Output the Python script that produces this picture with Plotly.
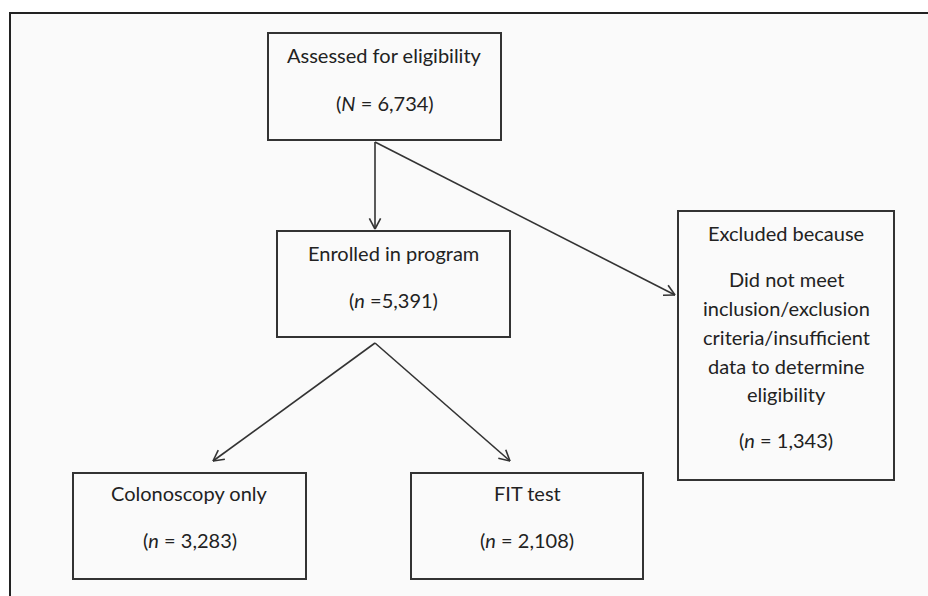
import numpy as np
import plotly.graph_objects as go

# ---- data ----
box_titles = ["Assessed for eligibility", "Enrolled in program", "Excluded because",
              "Colonoscopy only", "FIT test"]
count_symbols = ["N", "n", "n", "n", "n"]
count_values = ["6,734", "5,391", "1,343", "3,283", "2,108"]
count_sep = [" = ", " =", " = ", " = ", " = "]
exclusion_reason = ["Did not meet", "inclusion/exclusion", "criteria/insufficient",
                    "data to determine", "eligibility"]

# ---- layout (pixel coordinates) ----
boxes = [  # x0, y0, x1, y1, title_y, count_y
    (268, 33, 501, 140, 55, 103),
    (277, 231, 510, 337, 253, 300),
    (678, 211, 894, 480, 233, 440),
    (73, 473, 306, 579, 493, 540),
    (411, 473, 643, 579, 493, 540),
]
reason_y = [279, 308, 337, 366, 394]
arrows = [  # start, end
    ((375, 142), (375, 229)),
    ((375, 142), (675, 295)),
    ((375, 343), (213, 461)),
    ((375, 343), (510, 461)),
]

LINE = "#333333"
TXT = "#222222"
FONT = "Lato"
FS = 20

fig = go.Figure()
shapes = []
annotations = []

# frame background and edges
shapes.append(dict(type="rect", x0=10, y0=13, x1=928, y1=596, xref="x", yref="y",
                   fillcolor="#fafafa", line=dict(width=0), layer="below"))
shapes.append(dict(type="path", path="M 10 596 L 10 13 L 928 13", xref="x", yref="y",
                   line=dict(color="#222222", width=2)))

for i, (x0, y0, x1, y1, ty, cy) in enumerate(boxes):
    shapes.append(dict(type="rect", x0=x0, y0=y0, x1=x1, y1=y1, xref="x", yref="y",
                       line=dict(color=LINE, width=2), fillcolor="rgba(0,0,0,0)"))
    cx = (x0 + x1) / 2
    annotations.append(dict(x=cx, y=ty, text=box_titles[i], showarrow=False,
                            xref="x", yref="y", font=dict(family=FONT, size=FS, color=TXT)))
    annotations.append(dict(x=cx, y=cy,
                            text=f"(<i>{count_symbols[i]}</i>{count_sep[i]}{count_values[i]})",
                            showarrow=False, xref="x", yref="y",
                            font=dict(family=FONT, size=FS, color=TXT)))

ex = boxes[2]
for line, y in zip(exclusion_reason, reason_y):
    annotations.append(dict(x=(ex[0] + ex[2]) / 2, y=y, text=line, showarrow=False,
                            xref="x", yref="y", font=dict(family=FONT, size=FS, color=TXT)))

# arrows: shaft + open V head
for (sx, sy), (ex_, ey) in arrows:
    shapes.append(dict(type="line", x0=sx, y0=sy, x1=ex_, y1=ey, xref="x", yref="y",
                       line=dict(color=LINE, width=1.6)))
    d = np.array([ex_ - sx, ey - sy], dtype=float)
    d /= np.linalg.norm(d)
    L, ang = 12, np.deg2rad(28)
    for s in (1, -1):
        c, sn = np.cos(s * ang), np.sin(s * ang)
        r = np.array([d[0] * c - d[1] * sn, d[0] * sn + d[1] * c])
        hx, hy = ex_ - L * r[0], ey - L * r[1]
        shapes.append(dict(type="line", x0=ex_, y0=ey, x1=hx, y1=hy, xref="x", yref="y",
                           line=dict(color=LINE, width=1.6)))

fig.update_layout(
    width=928, height=596,
    margin=dict(l=0, r=0, t=0, b=0),
    paper_bgcolor="white", plot_bgcolor="white",
    xaxis=dict(range=[0, 928], visible=False, fixedrange=True),
    yaxis=dict(range=[596, 0], visible=False, fixedrange=True),
    shapes=shapes, annotations=annotations, showlegend=False,
)
fig.write_html("out.html", config={"displayModeBar": False},
               post_script="document.body.style.margin='0';document.body.style.overflow='hidden';")
